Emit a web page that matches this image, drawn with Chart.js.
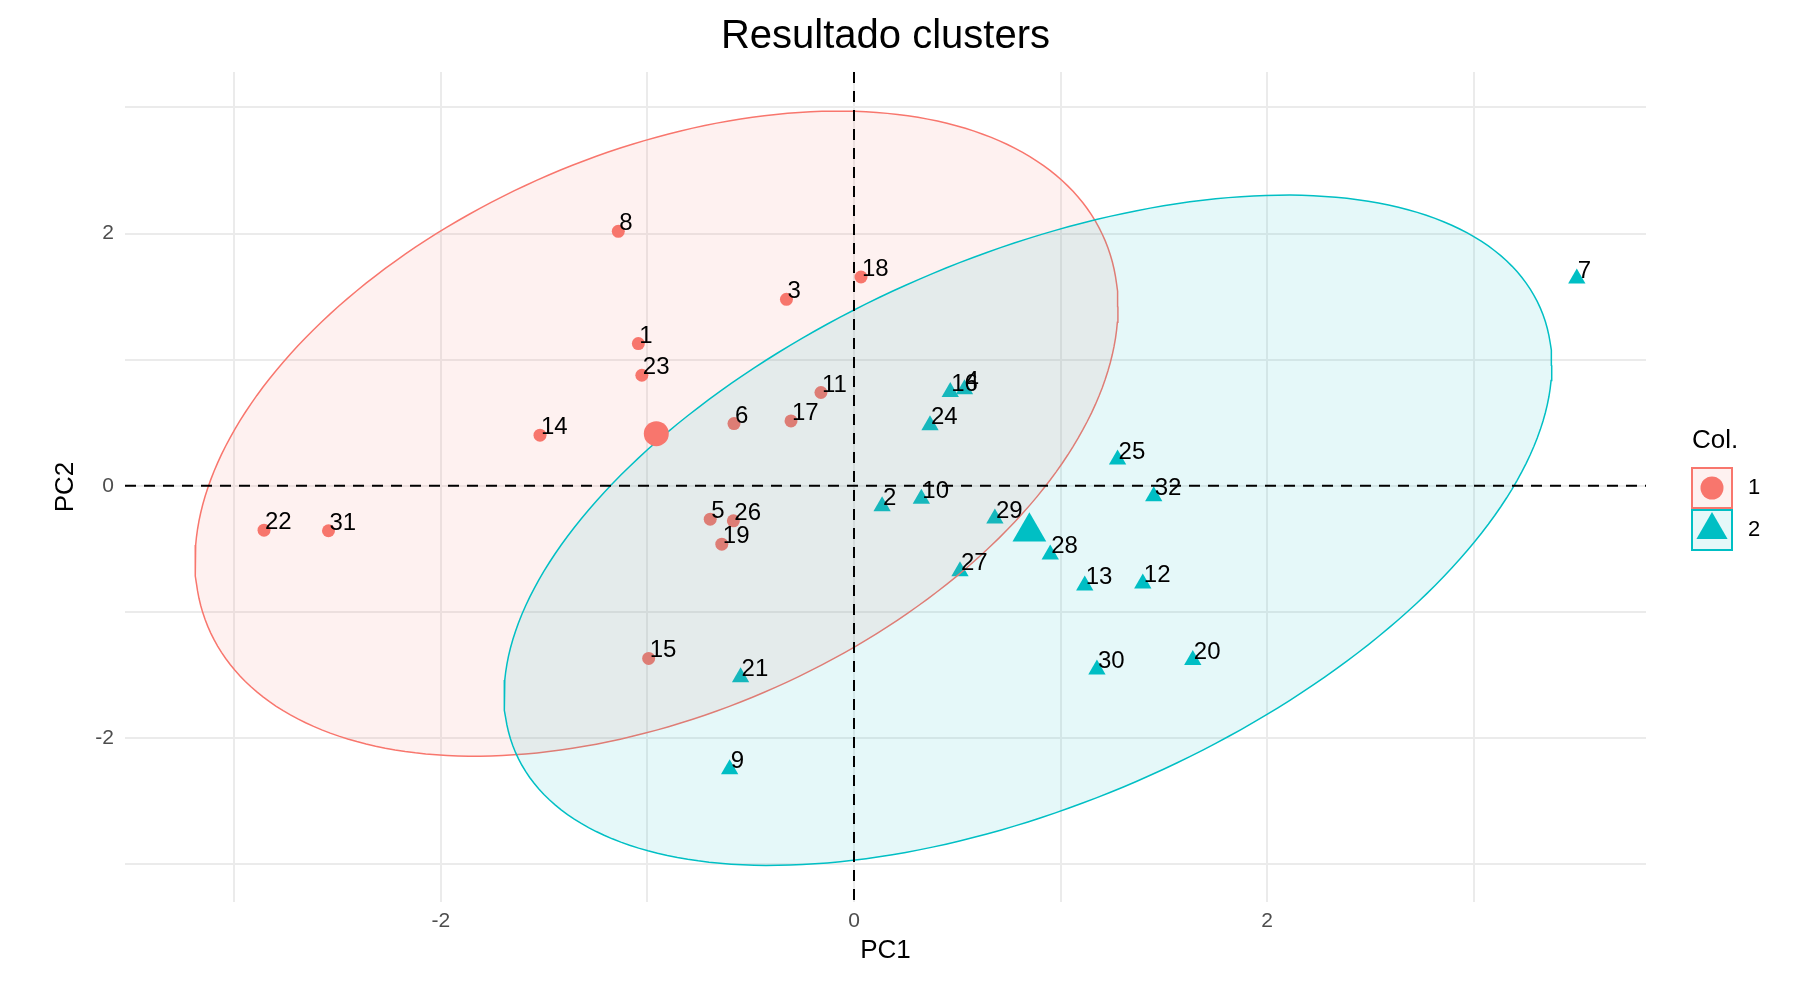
<!DOCTYPE html>
<html>
<head>
<meta charset="utf-8">
<title>Resultado clusters</title>
<script src="https://cdn.jsdelivr.net/npm/chart.js@4.4.1/dist/chart.umd.min.js"></script>
<style>
  html, body { margin: 0; padding: 0; background: #fff; }
  #wrap { width: 1804px; height: 1000px; position: relative; }
</style>
</head>
<body>
<div id="wrap"><canvas id="chart"></canvas></div>
<script>
// cluster 1 (circles)
const ids1 = ["1", "3", "5", "6", "8", "11", "14", "15", "17", "18", "19", "22", "23", "26", "31"];
const pc1C1 = [-1.044, -0.327, -0.696, -0.581, -1.141, -0.160, -1.520, -0.994, -0.305, 0.034, -0.640, -2.856, -1.027, -0.584, -2.544];
const pc2C1 = [1.128, 1.479, -0.264, 0.494, 2.018, 0.740, 0.402, -1.368, 0.515, 1.656, -0.462, -0.351, 0.877, -0.277, -0.356];

// cluster 2 (triangles)
const ids2 = ["2", "4", "7", "9", "10", "12", "13", "16", "20", "21", "24", "25", "27", "28", "29", "30", "32"];
const pc1C2 = [0.136, 0.535, 3.499, -0.602, 0.326, 1.398, 1.117, 0.466, 1.640, -0.549, 0.368, 1.276, 0.513, 0.950, 0.682, 1.176, 1.451];
const pc2C2 = [-0.161, 0.765, 1.643, -2.247, -0.103, -0.774, -0.789, 0.745, -1.381, -1.518, 0.481, 0.209, -0.676, -0.544, -0.259, -1.455, -0.082];

// cluster centres
const centreX = [-0.957, 0.849];
const centreY = [0.414, -0.364];

// normal ellipses: centre, half extents along PC1 / PC2, covariance term
const ellCx = [-0.956, 0.842];
const ellCy = [0.414, -0.352];
const ellHalfX = [2.234, 2.536];
const ellHalfY = [2.557, 2.657];
const ellCov = [2.25, 3.32];

const clusterNames = ["1", "2"];
const xLimits = [-3.529, 3.834];
const yLimits = [-3.299, 3.281];
const tickLabels = [-2, 0, 2];

const RED = "#F8766D", TEAL = "#00BFC4";
const RED_FILL = "rgba(248,118,109,0.1)", TEAL_FILL = "rgba(0,191,196,0.1)";
const FONT = '"Liberation Sans", Arial, sans-serif';

Chart.defaults.font.family = FONT;

function ellipse(i) {
  const k = ellCov[i] / ellHalfX[i];
  const m = Math.sqrt(ellHalfY[i] * ellHalfY[i] - k * k);
  const pts = [];
  for (let s = 0; s <= 240; s++) {
    const t = s / 240 * 2 * Math.PI;
    pts.push({ x: ellCx[i] + ellHalfX[i] * Math.cos(t), y: ellCy[i] + k * Math.cos(t) + m * Math.sin(t) });
  }
  return pts;
}

const zip = (xs, ys) => xs.map((x, i) => ({ x, y: ys[i] }));

// number labels next to each point
const labelPlugin = {
  id: "pointLabels",
  afterDatasetsDraw(chart) {
    const { ctx, scales: { x, y } } = chart;
    ctx.save();
    ctx.font = "24px " + FONT;
    ctx.fillStyle = "#000";
    ctx.textAlign = "left";
    ctx.textBaseline = "alphabetic";
    const put = (ids, xs, ys) => ids.forEach((id, i) => {
      ctx.fillText(id, x.getPixelForValue(xs[i]) + 1, y.getPixelForValue(ys[i]) - 1);
    });
    put(ids1, pc1C1, pc2C1);
    put(ids2, pc1C2, pc2C2);
    ctx.restore();
  }
};

// ggplot-like legend: boxed keys with title "Col."
const legendPlugin = {
  id: "colLegend",
  afterDraw(chart) {
    const ctx = chart.ctx;
    const left = chart.chartArea.right + 45;
    const size = 42;
    const top = 467;
    ctx.save();
    ctx.fillStyle = "#000";
    ctx.font = "26px " + FONT;
    ctx.textBaseline = "alphabetic";
    ctx.fillText("Col.", left + 1, 448);
    const keys = [[RED, RED_FILL, "circle"], [TEAL, TEAL_FILL, "triangle"]];
    keys.forEach(([col, fill, shape], i) => {
      const by = top + i * size;
      ctx.fillStyle = "#fff";
      ctx.fillRect(left, by, size, size);
      ctx.fillStyle = fill;
      ctx.fillRect(left, by, size, size);
      ctx.strokeStyle = col;
      ctx.lineWidth = 2;
      ctx.strokeRect(left + 1, by + 1, size - 2, size - 2);
      const cx = left + size / 2, cy = by + size / 2;
      ctx.fillStyle = col;
      ctx.beginPath();
      if (shape === "circle") {
        ctx.arc(cx, cy, 11.5, 0, 2 * Math.PI);
      } else {
        const r = 18;
        ctx.moveTo(cx, cy - r);
        ctx.lineTo(cx + r * Math.sin(2 * Math.PI / 3), cy + r / 2);
        ctx.lineTo(cx - r * Math.sin(2 * Math.PI / 3), cy + r / 2);
        ctx.closePath();
      }
      ctx.fill();
      ctx.fillStyle = "#000";
      ctx.font = "22px " + FONT;
      ctx.textBaseline = "middle";
      ctx.fillText(clusterNames[i], left + size + 15, cy);
    });
    ctx.restore();
  }
};

const ctx = document.getElementById("chart").getContext("2d");
new Chart(ctx, {
  type: "scatter",
  data: {
    datasets: [
      { label: "1", data: zip(pc1C1, pc2C1), pointStyle: "circle", pointRadius: 6.5,
        pointBorderWidth: 0, backgroundColor: RED, borderColor: RED, order: 5 },
      { label: "2", data: zip(pc1C2, pc2C2), pointStyle: "triangle", pointRadius: 10,
        pointBorderWidth: 0, backgroundColor: TEAL, borderColor: TEAL, order: 5 },
      { type: "line", data: ellipse(0), borderColor: RED, borderWidth: 1.5, backgroundColor: RED_FILL,
        fill: "shape", pointRadius: 0, tension: 0, order: 4 },
      { type: "line", data: ellipse(1), borderColor: TEAL, borderWidth: 1.5, backgroundColor: TEAL_FILL,
        fill: "shape", pointRadius: 0, tension: 0, order: 3 },
      { data: [{ x: centreX[0], y: centreY[0] }], pointStyle: "circle", pointRadius: 12.5,
        pointBorderWidth: 0, backgroundColor: RED, order: 2 },
      { data: [{ x: centreX[1], y: centreY[1] }], pointStyle: "triangle", pointRadius: 19.5,
        pointBorderWidth: 0, backgroundColor: TEAL, order: 2 },
      { type: "line", data: [{ x: xLimits[0], y: 0 }, { x: xLimits[1], y: 0 }], borderColor: "#000",
        borderWidth: 2, borderDash: [11, 8], pointRadius: 0, fill: false, order: 1 },
      { type: "line", data: [{ x: 0, y: yLimits[1] }, { x: 0, y: yLimits[0] }], borderColor: "#000",
        borderWidth: 2, borderDash: [11, 8], pointRadius: 0, fill: false, order: 1 }
    ]
  },
  options: {
    responsive: true,
    maintainAspectRatio: false,
    animation: false,
    layout: { padding: { left: 0, right: 158, top: 0, bottom: 0 } },
    plugins: {
      legend: { display: false },
      tooltip: { enabled: false },
      title: {
        display: true, fullSize: false, text: "Resultado clusters", color: "#000",
        font: { size: 40, weight: "normal" }, padding: { top: 13, bottom: 11 }
      }
    },
    scales: {
      x: {
        type: "linear", min: xLimits[0], max: xLimits[1],
        ticks: {
          stepSize: 1, includeBounds: false, color: "#4d4d4d", font: { size: 21 }, padding: 7,
          maxRotation: 0, autoSkip: false,
          callback: v => tickLabels.includes(Math.round(v)) && Math.abs(v - Math.round(v)) < 1e-6 ? String(Math.round(v)) : ""
        },
        grid: { color: "#ebebeb", lineWidth: 2, drawTicks: false },
        border: { display: false },
        title: { display: true, text: "PC1", color: "#000", font: { size: 26 }, padding: { top: 0, bottom: 34 } },
        afterFit: s => { s.height = 98; }
      },
      y: {
        type: "linear", min: yLimits[0], max: yLimits[1],
        ticks: {
          stepSize: 1, includeBounds: false, color: "#4d4d4d", font: { size: 21 }, padding: 11,
          autoSkip: false,
          callback: v => tickLabels.includes(Math.round(v)) && Math.abs(v - Math.round(v)) < 1e-6 ? String(Math.round(v)) : ""
        },
        grid: { color: "#ebebeb", lineWidth: 2, drawTicks: false },
        border: { display: false },
        title: { display: true, text: "PC2", color: "#000", font: { size: 26 }, padding: { top: 50, bottom: 0 } },
        afterFit: s => { s.width = 125; }
      }
    }
  },
  plugins: [labelPlugin, legendPlugin]
});
</script>
</body>
</html>
